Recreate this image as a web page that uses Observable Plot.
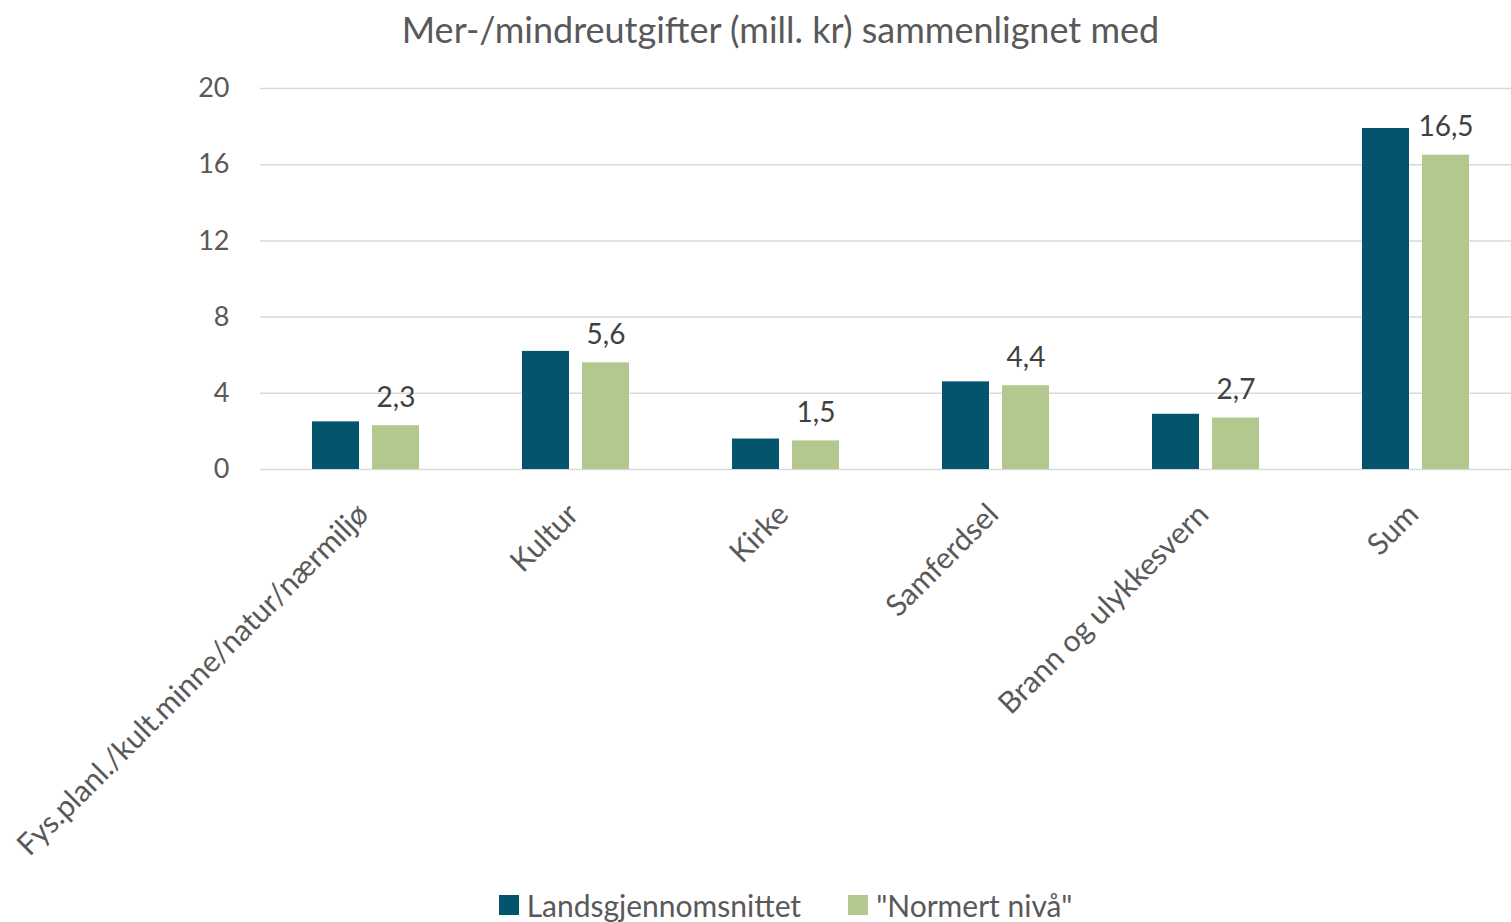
<!DOCTYPE html>
<html>
<head>
<meta charset="utf-8">
<script src="https://cdn.jsdelivr.net/npm/d3@7"></script>
<script src="https://cdn.jsdelivr.net/npm/@observablehq/plot@0.6"></script>
<style>
  body { margin: 0; background: #fff; font-family: Lato, "Open Sans", sans-serif; }
  #wrap { position: relative; width: 1511px; height: 922px; overflow: hidden; background: #fff; }
  #title { position: absolute; left: 0; top: 7px; width: 1561px; text-align: center; font-size: 36px; color: #595959; line-height: 44px; }
  #chart { position: absolute; left: 0; top: 0; }
  #legend { position: absolute; left: 0; top: 888px; width: 1571px; display: flex; justify-content: center; gap: 47px; font-size: 30px; color: #595959; line-height: 34px; }
  .item { display: flex; align-items: center; }
  .sw { width: 20px; height: 20px; margin-right: 8px; }
</style>
</head>
<body>
<div id="wrap">
  <div id="chart"></div>
  <div id="title"></div>
  <div id="legend"></div>
</div>
<script>
const titleText = "Mer-/mindreutgifter (mill. kr) sammenlignet med";
const categories = ["Fys.planl./kult.minne/natur/nærmiljø", "Kultur", "Kirke", "Samferdsel", "Brann og ulykkesvern", "Sum"];
const seriesNames = ["Landsgjennomsnittet", "\"Normert nivå\""];
const landsValues = [2.5, 6.2, 1.6, 4.6, 2.9, 17.9];
const normertValues = [2.3, 5.6, 1.5, 4.4, 2.7, 16.5];
const yTicks = [0, 4, 8, 12, 16, 20];
const colors = ["#03546c", "#b3c88e"];

const landsData = categories.map((c, i) => ({category: c, series: seriesNames[0], value: landsValues[i]}));
const normertData = categories.map((c, i) => ({category: c, series: seriesNames[1], value: normertValues[i]}));
const fmt = v => v.toFixed(1).replace(".", ",");

document.getElementById("title").textContent = titleText;

const chart = Plot.plot({
  width: 1511,
  height: 922,
  marginTop: 88,
  marginBottom: 453,
  marginLeft: 260,
  marginRight: 0,
  style: {fontFamily: "Lato, 'Open Sans', sans-serif", background: "transparent", overflow: "visible"},
  x: {type: "band", domain: categories, range: [260, 1521], padding: 0},
  y: {domain: [0, 20]},
  marks: [
    Plot.gridY(yTicks, {stroke: "#d9d9d9", strokeOpacity: 1, strokeWidth: 1.5}),
    Plot.barY(landsData, {x: "category", y: "value", fill: colors[0], insetLeft: 51, insetRight: 112}),
    Plot.barY(normertData, {x: "category", y: "value", fill: colors[1], insetLeft: 111, insetRight: 52}),
    Plot.text(normertData, {x: "category", y: "value", text: d => fmt(d.value), dx: 29.5, dy: -19, lineAnchor: "bottom", fontSize: 28, fill: "#404040"}),
    Plot.axisY({ticks: yTicks, tickSize: 0, tickPadding: 31, fontSize: 27, color: "#595959", label: null}),
    Plot.axisX({tickRotate: -45, tickSize: 0, tickPadding: 40, fontSize: 30, color: "#595959", label: null, dx: -3})
  ]
});
document.getElementById("chart").appendChild(chart);

const legend = document.getElementById("legend");
seriesNames.forEach((name, i) => {
  const item = document.createElement("div");
  item.className = "item";
  const sw = document.createElement("div");
  sw.className = "sw";
  sw.style.background = colors[i];
  const label = document.createElement("span");
  label.textContent = name;
  item.appendChild(sw);
  item.appendChild(label);
  legend.appendChild(item);
});
</script>
</body>
</html>
